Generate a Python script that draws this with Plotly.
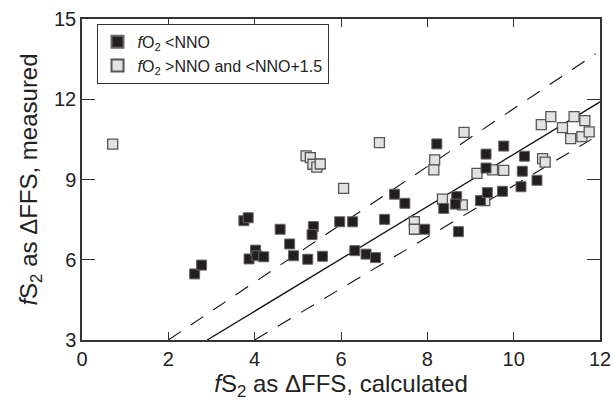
import plotly.graph_objects as go

# Black squares: fO2 < NNO
low_x = [2.61, 2.77, 3.75, 3.85, 3.87, 4.02, 4.05, 4.21, 4.59, 4.81, 4.90, 5.23, 5.36, 5.33, 5.57,
         5.97, 6.27, 6.32, 6.58, 6.80, 7.01, 7.24, 7.48, 7.94, 8.22, 8.38, 8.68, 8.65, 8.72,
         9.36, 9.77, 9.36, 9.23, 9.39, 9.74, 10.25, 10.20, 10.17, 10.54]
low_y = [5.47, 5.80, 7.46, 7.57, 6.03, 6.36, 6.15, 6.11, 7.14, 6.59, 6.15, 6.02, 7.24, 6.94, 6.13,
         7.42, 7.42, 6.34, 6.21, 6.08, 7.51, 8.45, 8.11, 7.14, 10.33, 7.92, 8.36, 8.08, 7.05,
         9.95, 10.25, 9.43, 8.21, 8.51, 8.56, 9.87, 9.31, 8.73, 8.97]

# Grey squares: NNO < fO2 < NNO+1.5
mid_x = [0.71, 5.19, 5.29, 5.35, 5.44, 5.52, 6.06, 6.89, 7.70, 7.70, 8.17, 8.15, 8.85, 8.35, 8.81,
         9.15, 9.51, 9.77, 9.33, 10.67, 10.73, 10.64, 10.86, 11.13, 11.40, 11.65, 11.32, 11.58, 11.75]
mid_y = [10.32, 9.88, 9.82, 9.57, 9.46, 9.58, 8.67, 10.38, 7.42, 7.14, 9.73, 9.36, 10.76, 8.27, 8.05,
         9.23, 9.36, 9.34, 8.21, 9.78, 9.65, 11.05, 11.35, 10.94, 11.35, 11.20, 10.53, 10.60, 10.78]

# Reference lines
solid_x = [2.9, 12.0]
solid_y = [3.0, 11.9]
upper_x = [2.0, 11.9]
upper_y = [3.0, 13.7]
lower_x = [4.0, 11.8]
lower_y = [3.0, 10.5]

x_ticks = [0, 2, 4, 6, 8, 10, 12]
y_ticks = [3, 6, 9, 12, 15]

fig = go.Figure()
fig.add_trace(go.Scatter(x=solid_x, y=solid_y, mode="lines", line=dict(color="#111", width=1.3),
                         showlegend=False, hoverinfo="skip"))
fig.add_trace(go.Scatter(x=upper_x, y=upper_y, mode="lines",
                         line=dict(color="#111", width=1.1, dash="15px,12px"),
                         showlegend=False, hoverinfo="skip"))
fig.add_trace(go.Scatter(x=lower_x, y=lower_y, mode="lines",
                         line=dict(color="#111", width=1.1, dash="15px,12px"),
                         showlegend=False, hoverinfo="skip"))
fig.add_trace(go.Scatter(x=mid_x, y=mid_y, mode="markers",
                         name="<i>f</i>O<sub>2</sub> &gt;NNO and &lt;NNO+1.5",
                         marker=dict(symbol="square", size=10, color="#e2e2e2",
                                     line=dict(color="#555", width=1.3))))
fig.add_trace(go.Scatter(x=low_x, y=low_y, mode="markers",
                         name="<i>f</i>O<sub>2</sub> &lt;NNO",
                         marker=dict(symbol="square", size=10, color="#231f20",
                                     line=dict(color="#666", width=1))))

fig.update_layout(
    width=614, height=401,
    margin=dict(l=82, r=14, t=19, b=61),
    plot_bgcolor="white", paper_bgcolor="white",
    font=dict(family="Liberation Sans, Arial, sans-serif", color="#222", size=20),
    showlegend=True,
    legend=dict(x=0.028, y=0.985, xanchor="left", yanchor="top",
                bgcolor="white", bordercolor="#333", borderwidth=1,
                font=dict(size=16), traceorder="reversed",
                itemsizing="constant", tracegroupgap=0, itemwidth=30),
    xaxis=dict(range=[0, 12], tickvals=x_ticks, ticks="inside", ticklen=8, tickwidth=1.3,
               tickcolor="#333", showline=True, linecolor="#333", linewidth=1.5, mirror="ticks",
               showgrid=False, zeroline=False, automargin=False,
               title=dict(text="<i>f</i>S<sub>2</sub> as ΔFFS, calculated", standoff=8)),
    yaxis=dict(range=[3, 15], tickvals=y_ticks, ticks="inside", ticklen=13, tickwidth=1.3,
               tickcolor="#333", showline=True, linecolor="#333", linewidth=1.5, mirror="ticks",
               showgrid=False, zeroline=False, automargin=False,
               title=dict(text="<i>f</i>S<sub>2</sub> as ΔFFS, measured", standoff=10)),
)

fig.write_html("out.html")
